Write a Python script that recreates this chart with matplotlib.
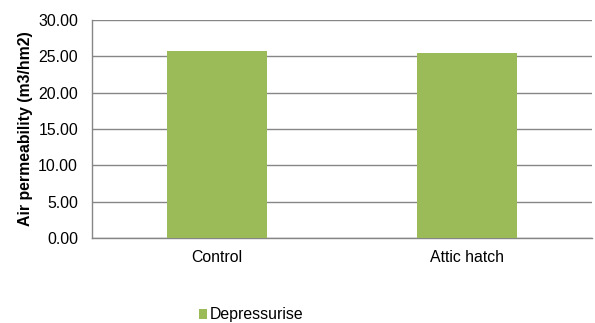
import matplotlib
matplotlib.use("Agg")
import matplotlib.pyplot as plt
from matplotlib.ticker import FormatStrFormatter

categories = ["Control", "Attic hatch"]
values = [25.73, 25.41]
series_name = "Depressurise"
yticks = [0, 5, 10, 15, 20, 25, 30]

plt.rcParams['font.family'] = ['Liberation Sans', 'DejaVu Sans']
FS = 11.4

fig = plt.figure(figsize=(5.95, 3.23), dpi=100)
ax = fig.add_axes([92/595, 1-238/323, 500/595, 218/323])

x = range(len(categories))
ax.bar(x, values, width=0.4, color="#9BBB59", label=series_name, zorder=3)
ax.set_xlim(-0.5, len(categories) - 0.5)
ax.set_ylim(0, 30)
ax.set_yticks(yticks)
ax.yaxis.set_major_formatter(FormatStrFormatter('%.2f'))
ax.set_xticks(list(x))
ax.set_xticklabels(categories)
ax.grid(axis='y', color='#868686', linewidth=1, zorder=0)
for s in ['top', 'right']:
    ax.spines[s].set_visible(False)
for s in ['left', 'bottom']:
    ax.spines[s].set_color('#868686')
    ax.spines[s].set_linewidth(1)
ax.tick_params(axis='both', length=0, labelsize=FS, colors='black')
ax.tick_params(axis='y', pad=10)
ax.tick_params(axis='x', pad=9)
ax.set_ylabel("Air permeability (m3/hm2)", fontsize=FS, fontweight='bold', labelpad=4)

fig.legend(loc='center', bbox_to_anchor=(251/595, 1-315/323), frameon=False,
           fontsize=FS, handlelength=0.55, handleheight=0.55, handletextpad=0.15)

fig.savefig("out.png", dpi=100)
